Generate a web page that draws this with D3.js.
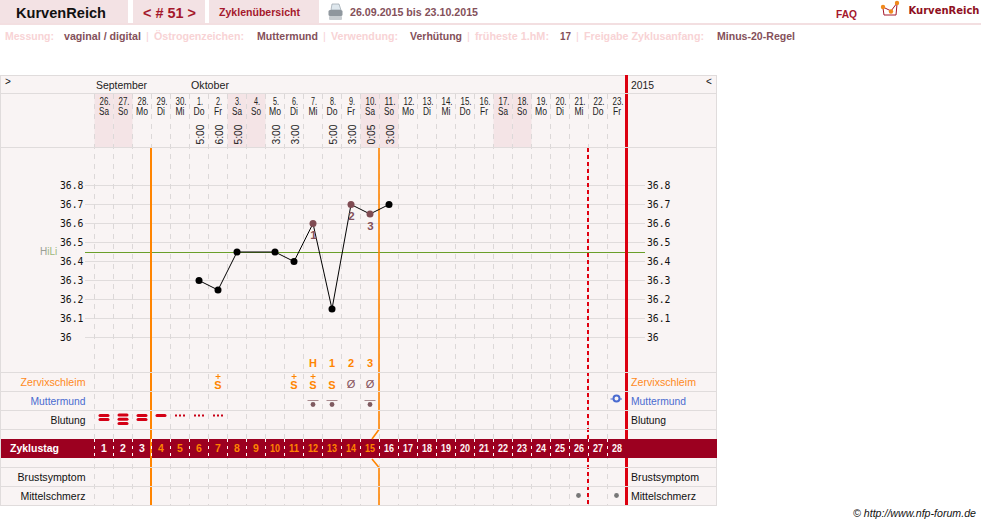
<!DOCTYPE html>
<html><head><meta charset="utf-8">
<script src="https://cdn.jsdelivr.net/npm/d3@7"></script>
<style>html,body{margin:0;padding:0;background:#fff}svg{display:block}text{font-family:"Liberation Sans",Arial,sans-serif}</style>
</head><body><svg id="c" width="981" height="525"></svg>
<script>
const dates=["26.","27.","28.","29.","30.","1.","2.","3.","4.","5.","6.","7.","8.","9.","10.","11.","12.","13.","14.","15.","16.","17.","18.","19.","20.","21.","22.","23."];
const weekdays=["Sa","So","Mo","Di","Mi","Do","Fr","Sa","So","Mo","Di","Mi","Do","Fr","Sa","So","Mo","Di","Mi","Do","Fr","Sa","So","Mo","Di","Mi","Do","Fr"];
const times=["","","","","","5:00","6:00","5:00","","3:00","3:00","","5:00","3:00","0:05","3:00","","","","","","","","","","","",""];
const temps=[null,null,null,null,null,36.3,36.25,36.45,null,36.45,36.4,36.6,36.15,36.7,36.65,36.7,null,null,null,null,null,null,null,null,null,null,null,null];
const tempMarks=[null,null,null,null,null,null,null,null,null,null,null,"1",null,"2","3",null,null,null,null,null,null,null,null,null,null,null,null,null];
const yTicks=[36,36.1,36.2,36.3,36.4,36.5,36.6,36.7,36.8];
const hiLi=36.45;
const peakLabels=[[11,"H"],[12,"1"],[13,"2"],[14,"3"]];
const mucus=[[6,"S+"],[10,"S+"],[11,"S+"],[12,"S"],[13,"Ø"],[14,"Ø"]];
const cervixDots=[11,12,14];
const bleedBars=[[0,2],[1,3],[2,2],[3,1]];
const bleedSpots=[4,5,6];
const painDots=[25,27];
const rowNames=["Zervixschleim","Muttermund","Blutung","Brustsymptom","Mittelschmerz"];
const rowColors=["#ff8a1c","#4a6bd0","#111","#111","#111"];
const dayNums=d3.range(1,29);

const svg=d3.select("#c");
const x=d3.scaleLinear().domain([0,28]).range([94.5,626.5]);
const y=d3.scaleLinear().domain([36,36.8]).range([337.5,185.5]);
const cx=i=>x(i+0.5);
const bg="#f9f4f4",wk="#f4e4e6",grid="#e0dcdc",dash="#dcd8d8";
const txt=(t,px,py,o={})=>{const e=svg.append("text").attr("x",px).attr("y",py).attr("font-size",o.s||11).attr("fill",o.c||"#111").attr("font-weight",o.w||null).attr("text-anchor",o.a||"start").text(t);
  if(o.l) e.attr("textLength",o.l).attr("lengthAdjust","spacingAndGlyphs");
  if(o.f) e.style("font-family",o.f);
  return e;};

// top navigation
[[0,128],[133,72],[209,110]].forEach(r=>svg.append("rect").attr("x",r[0]).attr("y",0).attr("width",r[1]).attr("height",23).attr("fill","#f3e2e4"));
svg.append("rect").attr("x",0).attr("y",23).attr("width",981).attr("height",2).attr("fill","#f3dfe1");
txt("KurvenReich",16,18,{s:14.5,w:"bold",l:90});
txt("< # 51 >",143,18,{s:15,w:"bold",c:"#a5182c",l:53});
txt("Zyklenübersicht",219,16,{s:11,w:"bold",c:"#a5182c",l:81});
txt("26.09.2015 bis 23.10.2015",350,16,{s:10.5,w:"bold",c:"#84505a",l:128});
const pr=svg.append("g");
pr.append("path").attr("d","M331 10L332 4H339L341 10Z").attr("fill","#dfe8ee").attr("stroke","#98a2aa").attr("stroke-width",.7);
pr.append("rect").attr("x",328.5).attr("y",10).attr("width",14).attr("height",6).attr("rx",1.5).attr("fill","#8f979e");
pr.append("rect").attr("x",329).attr("y",16).attr("width",13).attr("height",4).attr("rx",1).attr("fill","#c8cdd1");
txt("FAQ",836,18,{s:11,w:"bold",c:"#a5182c",l:21});
const lg=svg.append("g");
lg.append("path").attr("d","M883 8L884 15H896L897 4").attr("fill","none").attr("stroke","#a5182c").attr("stroke-width",1);
lg.append("path").attr("d","M883 7L891 11L897 3").attr("fill","none").attr("stroke","#a5182c").attr("stroke-width",1);
[[883,7],[891,11.5],[897,3]].forEach(p=>lg.append("circle").attr("cx",p[0]).attr("cy",p[1]).attr("r",2.2).attr("fill","#f08a1d"));
txt("KurvenReich",908.5,14,{s:10,w:"bold",c:"#8f1022",f:"DejaVu Sans",l:71});

// settings row
const pale="#f8d3d5",dk="#84505a";
[["Messung:",5,49,pale],["vaginal / digital",64,77,dk],["|",146,0,pale],["Östrogenzeichen:",154,90,pale],["Muttermund",257,61,dk],["|",323,0,pale],["Verwendung:",331,67,pale],["Verhütung",410,52,dk],["|",467,0,pale],["früheste 1.hM:",475,74,pale],["17",560,11,dk],["|",576,0,pale],["Freigabe Zyklusanfang:",584,120,pale],["Minus-20-Regel",717,78,dk]]
 .forEach(d=>txt(d[0],d[1],40,{s:11,w:d[0]==="|"?null:"bold",c:d[3],l:d[2]||null}));

// chart background
svg.append("rect").attr("x",0.5).attr("y",75.5).attr("width",716).attr("height",430).attr("fill",bg).attr("stroke",grid);
dates.forEach((d,i)=>{ if(weekdays[i]==="Sa"||weekdays[i]==="So")
  svg.append("rect").attr("x",x(i)).attr("y",93.5).attr("width",x(1)-x(0)).attr("height",54).attr("fill",wk);});

// temperature grid lines
svg.append("g").selectAll("line").data(yTicks).join("line").attr("x1",85).attr("x2",645).attr("y1",d=>y(d)).attr("y2",d=>y(d)).attr("stroke",grid);
// vertical dashes
svg.append("g").selectAll("line").data(d3.range(0,28)).join("line").attr("x1",d=>x(d)).attr("x2",d=>x(d)).attr("y1",94).attr("y2",505).attr("stroke",dash).attr("stroke-dasharray","5,5");

// HiLi
svg.append("line").attr("x1",85).attr("x2",645).attr("y1",252.5).attr("y2",252.5).attr("data-v",hiLi).attr("stroke","#6a9f2a");
const hl=txt("",40,255,{s:10,c:"#9bb87a"});
hl.append("tspan").attr("fill","#9a9f96").text("H");hl.append("tspan").text("iLi");

// y axis labels both sides
yTicks.forEach(t=>{const l=t===36?"36":t.toFixed(1),w=t===36?11.7:23.5;
  txt(l,60,y(t)+3.5,{s:10.5,c:"#111",f:"DejaVu Sans Mono",l:w});
  txt(l,647,y(t)+3.5,{s:10.5,c:"#111",f:"DejaVu Sans Mono",l:w});});

// cycle band
svg.append("rect").attr("x",1).attr("y",439).attr("width",716).attr("height",19).attr("fill","#9c0020");

// phase lines
const o="#ff8400";
svg.append("line").attr("x1",x(3)-.5).attr("x2",x(3)-.5).attr("y1",148).attr("y2",505).attr("stroke",o).attr("stroke-width",2);
svg.append("path").attr("d",`M${x(15)-.5} 148V429.5L${x(15)-7.5} 439`).attr("fill","none").attr("stroke",o).attr("stroke-width",1.6);
svg.append("path").attr("d",`M${x(15)-7.5} 459L${x(15)-.5} 467.5V505`).attr("fill","none").attr("stroke",o).attr("stroke-width",1.6);
[[148,439],[458,505]].forEach(r=>{
  svg.append("line").attr("x1",x(26)-.5).attr("x2",x(26)-.5).attr("y1",r[0]).attr("y2",r[1]).attr("stroke","#e0000f").attr("stroke-width",2).attr("stroke-dasharray","4,3");
});
[[75,439],[458,505]].forEach(r=>svg.append("line").attr("x1",x(28)).attr("x2",x(28)).attr("y1",r[0]).attr("y2",r[1]).attr("stroke","#dc0010").attr("stroke-width",3));

// horizontal rows drawn over the phase lines
const hr=[93.5,147.5,372.5,391.5,410.5,429.5,467.5,486.5];
svg.append("g").selectAll("line").data(hr).join("line").attr("x1",1).attr("x2",716).attr("y1",d=>d).attr("y2",d=>d).attr("stroke",grid);
svg.append("line").attr("x1",x(28)).attr("x2",x(28)).attr("y1",75).attr("y2",93).attr("stroke","#dc0010").attr("stroke-width",3);

// header text
txt(">",5,85,{s:10});txt("<",706,85,{s:10});
txt("September",96,89,{s:10.5,c:"#222",l:51});txt("Oktober",191,89,{s:10.5,c:"#222",l:38});txt("2015",631,89,{s:10.5,c:"#222",l:23});
const wdW={Sa:10,So:10,Mo:12,Di:8,Mi:9,Do:11,Fr:8};
dates.forEach((d,i)=>{
  txt(d,cx(i)+1,105,{s:10,a:"middle",c:"#222",l:d.length>2?11:6});
  txt(weekdays[i],cx(i),115,{s:10,a:"middle",c:"#222",l:wdW[weekdays[i]]});
  if(times[i]) svg.append("text").attr("transform",`translate(${cx(i)+4.5},144.5) rotate(-90)`).attr("font-size",11).attr("fill","#222").attr("textLength",20).attr("lengthAdjust","spacingAndGlyphs").text(times[i]);
});

// temperature line
const seg=temps.map((v,i)=>({v,i})).filter(d=>d.v!==null);
svg.append("path").datum(seg).attr("fill","none").attr("stroke","#000").attr("stroke-width",1)
  .attr("d",d3.line().x(d=>cx(d.i)).y(d=>y(d.v)));
svg.append("g").selectAll("circle").data(seg).join("circle").attr("cx",d=>cx(d.i)).attr("cy",d=>y(d.v)).attr("r",3.5)
  .attr("fill",d=>tempMarks[d.i]?"#7f4b52":"#000");
seg.filter(d=>tempMarks[d.i]).forEach(d=>txt(tempMarks[d.i],cx(d.i)+.5,y(d.v)+15.5,{s:11.5,w:"bold",a:"middle",c:"#84505a"}));

// peak row
peakLabels.forEach(d=>txt(d[1],cx(d[0]),367,{s:11,a:"middle",c:o,w:"bold"}));
// mucus
mucus.forEach(d=>{
  const i=d[0],s=d[1],c=cx(i);
  if(s==="Ø"){txt("Ø",c,388,{s:11,a:"middle",c:"#84505a"});return;}
  txt("S",c,388.5,{s:11,a:"middle",c:o,w:"bold"});
  if(s.includes("+")) svg.append("path").attr("d",`M${c-2.5} 376.5H${c+2.5}M${c} 374V379`).attr("stroke",o).attr("stroke-width",1).attr("fill","none");
});
// row labels
const leftW=[65,55,35,68,65],rowY=[386,405,424,481,500];
rowNames.forEach((n,k)=>{
  txt(n,85.5,rowY[k],{s:11,a:"end",c:rowColors[k],l:leftW[k]});
  txt(n,631,rowY[k],{s:11,c:rowColors[k],l:leftW[k]});
});
// cervix
cervixDots.forEach(i=>{
  svg.append("line").attr("x1",cx(i)-5.5).attr("x2",cx(i)+5.5).attr("y1",400.5).attr("y2",400.5).attr("stroke","#a88a8e");
  svg.append("circle").attr("cx",cx(i)).attr("cy",404.5).attr("r",2.4).attr("fill","#7f5a60");
});
const bc=cx(27)-.5;
svg.append("circle").attr("cx",bc).attr("cy",398.5).attr("r",3).attr("fill","none").attr("stroke","#4a6bd0").attr("stroke-width",2);
svg.append("path").attr("d",`M${bc-6} 399H${bc-3}M${bc+3} 399H${bc+5.5}`).attr("stroke","#4a6bd0").attr("stroke-width",1).attr("fill","none");
// bleeding
bleedBars.forEach(d=>{
  const n=d[1];
  d3.range(n).forEach(k=>{
    const hy=n===1?414:(n===2?414+k*4:413.5+k*4.3);
    svg.append("rect").attr("x",cx(d[0])-5.5).attr("y",hy).attr("width",11).attr("height",3).attr("rx",1.5).attr("fill","#d40015");
  });
});
bleedSpots.forEach(i=>[-4,0,4].forEach(dx=>svg.append("rect").attr("x",cx(i)+dx-1).attr("y",414.5).attr("width",2).attr("height",2).attr("fill","#c80015")));
// band text
txt("Zyklustag",10,452,{s:11,w:"bold",c:"#fff",l:49});
svg.append("g").selectAll("line").data(d3.range(0,28)).join("line").attr("x1",d=>x(d)).attr("x2",d=>x(d)).attr("y1",439).attr("y2",458).attr("stroke","#fff").attr("stroke-dasharray","3,4");
dayNums.forEach((n,i)=>txt(n,cx(i),452,{s:10.5,w:"bold",a:"middle",c:(i>=3&&i<15)?"#ff8400":"#fff6f6",l:n>9?10:null}));
// pain
painDots.forEach(i=>svg.append("circle").attr("cx",cx(i)-.5).attr("cy",495.5).attr("r",2.4).attr("fill","#777"));
txt("© http://www.nfp-forum.de",853,517,{s:10.5,c:"#111",l:123}).attr("font-style","italic");
</script></body></html>
